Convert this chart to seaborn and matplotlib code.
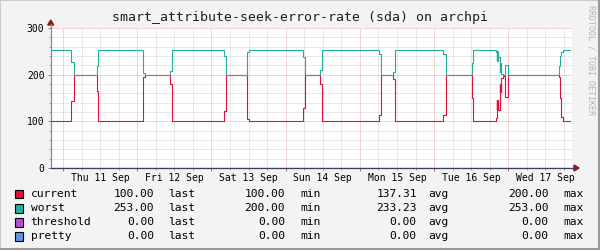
import matplotlib
matplotlib.use("Agg")
import matplotlib.pyplot as plt
from matplotlib.patches import Rectangle, Polygon
from matplotlib.lines import Line2D
from matplotlib.ticker import MultipleLocator, FixedLocator
import seaborn as sns
import pandas as pd

# ---------------- data (hours since Thu 11 Sep 00:00) ----------------
hours = [-4.0, 2.65, 3.43, 11.06, 11.39, 25.94, 26.5, 34.6, 35.3, 52.1, 52.7,
         59.4, 60.0, 77.6, 78.2, 83.1, 83.7, 102.2, 102.7, 106.6, 107.3,
         122.8, 123.7, 132.3, 132.7, 139.95,
         140.27, 140.33, 140.39, 140.45, 140.51, 140.57, 140.63, 140.69,
         140.79, 141.24, 141.30, 141.36, 141.42, 141.48, 141.54, 141.60, 141.66,
         141.76, 142.21, 142.96, 144.0,
         160.3, 160.8, 161.2, 161.6, 161.8, 164.0]
current = [100, 143, 200, 165, 100, 196, 200, 181, 100, 123, 200,
           106, 100, 128, 200, 180, 100, 113, 200, 190, 100,
           113, 200, 149, 100, 107,
           146, 124, 146, 124, 146, 124, 146, 124,
           124, 181, 163, 181, 163, 181, 163, 181, 163,
           193, 198, 153, 200,
           194, 149, 109, 100, 100, 100]
worst = [253, 228, 200, 219, 253, 204, 200, 208, 253, 240, 200,
         249, 253, 238, 200, 211, 253, 244, 200, 205, 253,
         244, 200, 226, 253, 249,
         251, 229, 251, 229, 251, 229, 251, 229,
         238, 226, 206, 226, 206, 226, 206, 226, 206,
         202, 200, 221, 200,
         218, 239, 249, 249, 253, 253]
threshold = [0] * len(hours)
pretty = [0] * len(hours)

series_names = ["current", "worst", "threshold", "pretty"]
series_colors = ["#E0103C", "#20B0A0", "#B050D0", "#6090E8"]
legend_rows = [
    ["100.00", "100.00", "137.31", "200.00"],
    ["253.00", "200.00", "233.23", "253.00"],
    ["0.00", "0.00", "0.00", "0.00"],
    ["0.00", "0.00", "0.00", "0.00"],
]
legend_words = ["last", "min", "avg", "max"]
day_labels = ["Thu 11 Sep", "Fri 12 Sep", "Sat 13 Sep", "Sun 14 Sep",
              "Mon 15 Sep", "Tue 16 Sep", "Wed 17 Sep"]
y_ticks = [0, 100, 200, 300]
title = "smart_attribute-seek-error-rate (sda) on archpi"

# ---------------- figure ----------------
W, H = 600, 250
MONO = "DejaVu Sans Mono"
sns.set_theme(style="white")
plt.rcParams["font.family"] = [MONO, "DejaVu Sans"]

fig = plt.figure(figsize=(6, 2.5), dpi=100)
fig.patch.set_facecolor("#F3F3F3")

def fx(x):
    return x / W

def fy(y):
    return 1 - y / H

ax_l, ax_r, ax_t, ax_b = 50.7, 572.0, 28.0, 168.0
ax = fig.add_axes([fx(ax_l), fy(ax_b), (ax_r - ax_l) / W, (ax_b - ax_t) / H])
ax.set_facecolor("white")

df = pd.DataFrame({
    "hours": hours * 4,
    "value": current + worst + threshold + pretty,
    "series": sum([[n] * len(hours) for n in series_names], []),
})
# draw zero series first, then current, then worst on top
order = ["threshold", "pretty", "current", "worst"]
for name in order:
    sub = df[df["series"] == name]
    sns.lineplot(data=sub, x="hours", y="value", ax=ax,
                 color=series_colors[series_names.index(name)],
                 drawstyle="steps-post", linewidth=0.8, legend=False,
                 estimator=None, sort=False, zorder=3)

px_per_hour = 74.2 / 24
ax.set_xlim(-4, -4 + (ax_r - ax_l) / px_per_hour)
ax.set_ylim(0, 300)
ax.set_xlabel("")
ax.set_ylabel("")

ax.xaxis.set_major_locator(MultipleLocator(24))
ax.xaxis.set_minor_locator(MultipleLocator(6))
ax.yaxis.set_major_locator(FixedLocator(y_ticks))
ax.yaxis.set_minor_locator(MultipleLocator(20))
ax.set_xticklabels([])
ax.set_yticks(y_ticks)
ax.set_yticklabels([str(v) for v in y_ticks], fontsize=7, family=MONO, color="black")

ax.grid(which="minor", color="#D2D2D2", linestyle=(0, (1, 1)), linewidth=0.72, zorder=1)
ax.grid(which="major", color="#F2A6A6", linestyle=(0, (1, 1)), linewidth=0.72, zorder=1)
ax.set_axisbelow(True)

ax.tick_params(axis="both", which="major", length=2.5, width=0.72, color="#808080", pad=2)
ax.tick_params(axis="both", which="minor", length=1.5, width=0.72, color="#A0A0A0")
ax.tick_params(axis="x", which="both", direction="out", bottom=True)
ax.tick_params(axis="y", which="both", direction="out", left=True)

for s in ["top", "right"]:
    ax.spines[s].set_visible(False)
ax.spines["left"].set_color("#8A8A8A")
ax.spines["left"].set_linewidth(0.9)
ax.spines["bottom"].set_color("#3C3C64")
ax.spines["bottom"].set_linewidth(0.9)
ax.spines["bottom"].set_zorder(4)

# day labels at noon
for i, lab in enumerate(day_labels):
    ax.text(12 + 24 * i, -0.07, lab, transform=ax.get_xaxis_transform(),
            ha="center", va="center", fontsize=7, family=MONO, color="black")

# axis extensions & arrows
fig.add_artist(Line2D([fx(ax_r), fx(574)], [fy(ax_b), fy(ax_b)], color="#3C3C64", lw=0.9))
fig.add_artist(Polygon([[fx(574), fy(165)], [fx(579), fy(168)], [fx(574), fy(171)]],
                       closed=True, color="#8B1A1A", transform=fig.transFigure))
fig.add_artist(Line2D([fx(ax_l), fx(ax_l)], [fy(ax_t), fy(24)], color="#8A8A8A", lw=0.9))
fig.add_artist(Polygon([[fx(47.7), fy(25)], [fx(50.7), fy(20)], [fx(53.7), fy(25)]],
                       closed=True, color="#8B1A1A", transform=fig.transFigure))

# title
fig.text(fx(300), fy(18), title, ha="center", va="center", fontsize=9.5,
         family=MONO, color="#202020")

# watermark
fig.text(fx(591), fy(5), "RRDTOOL / TOBI OETIKER", rotation=270, ha="center",
         va="top", fontsize=6, family=MONO, color="#B4B4B4")

# legend
row_y = [194, 208.3, 222.3, 236.3]
val_right = [154, 285, 416.7, 548.3]
word_left = [168.3, 300, 428.3, 563.3]
for r, name in enumerate(series_names):
    fig.add_artist(Rectangle((fx(15), fy(row_y[r] + 4.3)), 8 / W, 8.6 / H,
                             facecolor=series_colors[r], edgecolor="black",
                             linewidth=0.8, transform=fig.transFigure))
    fig.text(fx(30.7), fy(row_y[r]), name, ha="left", va="center",
             fontsize=8.1, family=MONO, color="black")
    for c in range(4):
        fig.text(fx(val_right[c]), fy(row_y[r]), legend_rows[r][c], ha="right",
                 va="center", fontsize=8.1, family=MONO, color="black")
        fig.text(fx(word_left[c]), fy(row_y[r]), legend_words[c], ha="left",
                 va="center", fontsize=8.1, family=MONO, color="black")

# 3D frame
fig.add_artist(Line2D([0, 0], [0, 1], color="#CBCBCB", lw=1.5))
fig.add_artist(Line2D([0, 1], [1, 1], color="#CBCBCB", lw=1.5))
fig.add_artist(Line2D([0, 1], [0.004, 0.004], color="#999999", lw=2.2))
fig.add_artist(Line2D([0.998, 0.998], [0, 1], color="#999999", lw=2.2))

fig.savefig("out.png", dpi=100, facecolor=fig.get_facecolor())
